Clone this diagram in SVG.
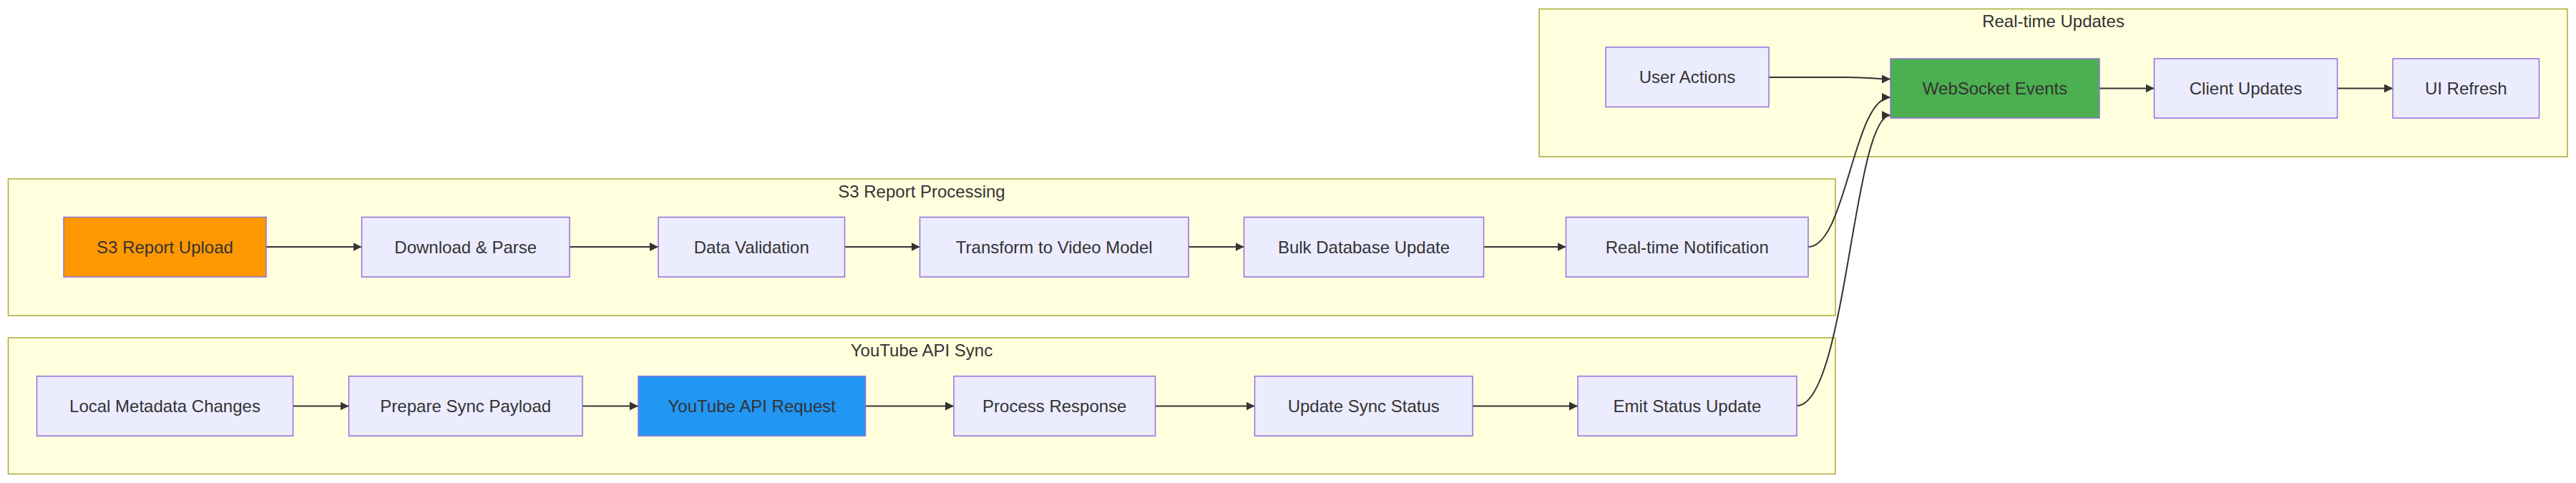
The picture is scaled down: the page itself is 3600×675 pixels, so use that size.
<svg xmlns="http://www.w3.org/2000/svg" width="3600" height="675" viewBox="0 0 3600 675">
<style>
.cluster{fill:#ffffde;stroke:#aaaa33;stroke-width:1.5}
.ctitle{font-family:"Liberation Sans",Arial,sans-serif;font-size:24px;fill:#333333;text-anchor:middle}
.node{fill:#ECECFF;stroke:#9370DB;stroke-width:1.5}
.label{font-family:"Liberation Sans",Arial,sans-serif;font-size:24px;fill:#333333;text-anchor:middle}
.edge{fill:none;stroke:#333333;stroke-width:2}
</style>
<defs>
<marker id="arrow" markerUnits="userSpaceOnUse" markerWidth="12" markerHeight="12" viewBox="0 0 12 12" refX="12" refY="6" orient="auto">
<path d="M0,0 L12,6 L0,12 z" fill="#333333"/>
</marker>
</defs>
<rect width="3600" height="675" fill="#ffffff"/>
<g id="cluster-realtime">
<rect class="cluster" x="2151" y="12.5" width="1437" height="206.5"/>
<text class="ctitle" x="2869.5" y="38">Real-time Updates</text>
</g>
<g id="cluster-s3">
<rect class="cluster" x="11.5" y="250" width="2553.5" height="191"/>
<text class="ctitle" x="1288" y="276">S3 Report Processing</text>
</g>
<g id="cluster-youtube">
<rect class="cluster" x="11.5" y="472" width="2553.5" height="190.5"/>
<text class="ctitle" x="1288" y="498">YouTube API Sync</text>
</g>
<g id="edges">
<path class="edge" d="M372,345 L505.5,345" marker-end="url(#arrow)"/>
<path class="edge" d="M796,345 L920,345" marker-end="url(#arrow)"/>
<path class="edge" d="M1180.5,345 L1285.5,345" marker-end="url(#arrow)"/>
<path class="edge" d="M1661,345 L1738.5,345" marker-end="url(#arrow)"/>
<path class="edge" d="M2073.5,345 L2188.5,345" marker-end="url(#arrow)"/>
<path class="edge" d="M409.5,567.5 L487.5,567.5" marker-end="url(#arrow)"/>
<path class="edge" d="M814,567.5 L892,567.5" marker-end="url(#arrow)"/>
<path class="edge" d="M1209.5,567.5 L1333,567.5" marker-end="url(#arrow)"/>
<path class="edge" d="M1614.5,567.5 L1753.5,567.5" marker-end="url(#arrow)"/>
<path class="edge" d="M2058,567.5 L2205,567.5" marker-end="url(#arrow)"/>
<path class="edge" d="M2472,108 L2580,108 C2615,108 2622,110.5 2642,110.5" marker-end="url(#arrow)"/>
<path class="edge" d="M2934,123.5 L3010.5,123.5" marker-end="url(#arrow)"/>
<path class="edge" d="M3266.5,123.5 L3344,123.5" marker-end="url(#arrow)"/>
<path class="edge" d="M2527,345 C2580,345 2590,136 2642,136" marker-end="url(#arrow)"/>
<path class="edge" d="M2511,567 C2580,567 2590,161 2642,161" marker-end="url(#arrow)"/>
</g>
<g id="node-s3upload">
<rect class="node" x="89" y="303.5" width="283" height="83.5" style="fill:#ff9800"/>
<text class="label" x="230.5" y="353.5">S3 Report Upload</text>
</g>
<g id="node-download">
<rect class="node" x="505.5" y="303.5" width="290.5" height="83.5"/>
<text class="label" x="650.75" y="353.5">Download &amp; Parse</text>
</g>
<g id="node-validate">
<rect class="node" x="920" y="303.5" width="260.5" height="83.5"/>
<text class="label" x="1050.25" y="353.5">Data Validation</text>
</g>
<g id="node-transform">
<rect class="node" x="1285.5" y="303.5" width="375.5" height="83.5"/>
<text class="label" x="1473.25" y="353.5">Transform to Video Model</text>
</g>
<g id="node-bulk">
<rect class="node" x="1738.5" y="303.5" width="335" height="83.5"/>
<text class="label" x="1906" y="353.5">Bulk Database Update</text>
</g>
<g id="node-notify">
<rect class="node" x="2188.5" y="303.5" width="338.5" height="83.5"/>
<text class="label" x="2357.75" y="353.5">Real-time Notification</text>
</g>
<g id="node-local">
<rect class="node" x="51.5" y="525.7" width="358" height="83.5"/>
<text class="label" x="230.5" y="576">Local Metadata Changes</text>
</g>
<g id="node-prepare">
<rect class="node" x="487.5" y="525.7" width="326.5" height="83.5"/>
<text class="label" x="650.75" y="576">Prepare Sync Payload</text>
</g>
<g id="node-ytreq">
<rect class="node" x="892" y="525.7" width="317.5" height="83.5" style="fill:#2196f3"/>
<text class="label" x="1050.75" y="576">YouTube API Request</text>
</g>
<g id="node-process">
<rect class="node" x="1333" y="525.7" width="281.5" height="83.5"/>
<text class="label" x="1473.75" y="576">Process Response</text>
</g>
<g id="node-updsync">
<rect class="node" x="1753.5" y="525.7" width="304.5" height="83.5"/>
<text class="label" x="1905.75" y="576">Update Sync Status</text>
</g>
<g id="node-emit">
<rect class="node" x="2205" y="525.7" width="306" height="83.5"/>
<text class="label" x="2358" y="576">Emit Status Update</text>
</g>
<g id="node-user">
<rect class="node" x="2244" y="66" width="228" height="83.5"/>
<text class="label" x="2358" y="116.3">User Actions</text>
</g>
<g id="node-ws">
<rect class="node" x="2642" y="82" width="292" height="83" style="fill:#4caf50"/>
<text class="label" x="2788" y="132">WebSocket Events</text>
</g>
<g id="node-client">
<rect class="node" x="3010.5" y="82" width="256" height="83"/>
<text class="label" x="3138.5" y="132">Client Updates</text>
</g>
<g id="node-ui">
<rect class="node" x="3344" y="82" width="204.5" height="83"/>
<text class="label" x="3446.25" y="132">UI Refresh</text>
</g>
</svg>
